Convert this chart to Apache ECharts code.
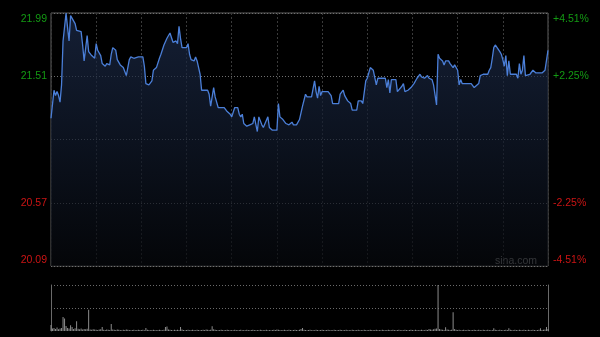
<!DOCTYPE html>
<html>
<head>
<meta charset="utf-8">
<script src="https://cdn.jsdelivr.net/npm/echarts@6/dist/echarts.min.js"></script>
<style>
html,body{margin:0;padding:0;background:#000;}
#c{width:600px;height:337px;}
</style>
</head>
<body>
<div id="c"></div>
<script>
// ---- data ----
const prevClose = 21.04;
const minuteIndex = [0,2,3,4,5,6,7,8,10,11,12,13,14,16,17,18,20,21,22,23,24,25,27,29,30,31,33,34,36,37,39,40,41,43,44,46,47,48,50,51,52,53,55,56,58,61,62,63,65,67,68,70,72,73,75,77,79,81,82,83,84,85,86,87,90,91,92,93,95,96,97,99,100,104,105,106,107,108,109,110,111,115,117,119,120,122,124,125,126,127,128,130,132,134,135,137,138,139,140,141,142,144,145,147,150,151,152,154,156,158,160,161,163,165,167,169,170,173,175,176,177,178,179,180,184,186,187,191,192,194,195,197,199,200,201,203,204,206,207,209,210,211,212,214,216,217,222,223,224,225,226,229,230,231,233,234,235,237,239,241,243,245,246,248,250,251,253,254,256,257,258,260,261,262,264,265,267,268,269,270,271,272,273,279,281,282,284,285,287,290,291,292,293,294,295,296,298,299,300,301,302,303,304,305,309,310,311,312,313,314,315,316,318,320,322,326,327,328,330];
const prices = [21.20,21.41,21.37,21.40,21.37,21.32,21.45,21.78,21.99,21.88,21.78,21.97,21.96,21.91,21.86,21.87,21.85,21.75,21.63,21.64,21.82,21.70,21.67,21.65,21.76,21.71,21.67,21.61,21.59,21.61,21.60,21.68,21.73,21.71,21.64,21.60,21.60,21.58,21.52,21.53,21.64,21.66,21.65,21.64,21.66,21.66,21.59,21.46,21.45,21.48,21.56,21.58,21.65,21.68,21.75,21.80,21.84,21.77,21.76,21.78,21.76,21.89,21.80,21.73,21.73,21.76,21.68,21.64,21.63,21.66,21.63,21.53,21.41,21.41,21.38,21.29,21.29,21.43,21.36,21.35,21.28,21.28,21.25,21.23,21.21,21.28,21.28,21.23,21.21,21.23,21.16,21.14,21.15,21.16,21.21,21.10,21.21,21.21,21.15,21.13,21.13,21.21,21.13,21.11,21.11,21.31,21.21,21.19,21.16,21.15,21.17,21.15,21.15,21.19,21.29,21.38,21.36,21.36,21.48,21.40,21.35,21.44,21.37,21.40,21.40,21.37,21.31,21.31,21.38,21.41,21.37,21.33,21.31,21.26,21.25,21.26,21.33,21.33,21.31,21.48,21.50,21.50,21.58,21.56,21.45,21.50,21.50,21.43,21.49,21.39,21.49,21.49,21.40,21.40,21.44,21.46,21.40,21.41,21.43,21.46,21.50,21.53,21.51,21.50,21.52,21.50,21.49,21.45,21.30,21.68,21.65,21.63,21.60,21.63,21.63,21.61,21.58,21.60,21.59,21.56,21.45,21.49,21.46,21.46,21.43,21.43,21.46,21.52,21.53,21.53,21.56,21.58,21.65,21.73,21.75,21.75,21.70,21.68,21.64,21.59,21.67,21.52,21.63,21.53,21.53,21.50,21.61,21.53,21.56,21.67,21.52,21.53,21.53,21.56,21.54,21.54,21.55,21.56,21.71];
const volume = [
60,25,30,20,35,18,25,30,140,125,50,30,25,57,40,20,28,97,22,18,25,15,20,18,22,213,15,12,18,14,
12,10,15,18,40,12,10,15,12,10,70,14,12,10,15,12,10,8,12,10,14,12,10,8,10,12,8,10,12,10,
10,12,8,30,12,10,8,10,12,10,8,10,12,10,8,12,40,45,15,12,10,8,12,10,12,10,40,15,10,8,
10,12,8,10,12,10,8,12,10,8,10,12,10,15,12,10,12,47,18,12,10,8,10,12,10,8,10,12,10,8,
10,8,12,10,8,10,12,8,10,8,12,10,8,10,12,10,8,10,8,12,10,8,10,12,8,10,8,10,12,10,
15,12,10,8,10,12,10,8,12,10,8,10,12,10,8,12,20,30,12,10,8,10,12,8,10,8,12,10,8,10,
12,10,8,10,12,8,10,8,12,10,8,10,12,10,8,10,12,8,10,8,12,10,8,10,12,8,10,8,12,10,
8,10,12,10,8,10,12,8,10,8,12,10,8,10,12,10,8,12,10,8,10,12,8,10,8,12,10,8,10,12,
10,8,12,10,8,10,12,10,8,12,10,20,15,12,18,22,25,460,20,15,12,10,37,15,12,10,12,187,20,12,
10,12,8,10,12,10,8,12,10,8,10,12,10,8,12,10,8,12,10,8,12,10,8,10,27,12,10,8,12,10,
8,10,12,10,27,12,10,8,12,10,8,12,10,8,12,10,8,12,10,8,12,10,8,10,12,27,10,12,15,40,
20];
const leftTickLabels = ['20.09','20.57','','21.51','21.99'];
const rightTickLabels = ['-4.51%','-2.25%','','+2.25%','+4.51%'];
const tickStep = 0.475;
const sessionMinutes = 330;
const volMax = 460;

// ---- build ----
const GREEN = '#139a13', RED = '#cc1414';
const tickIdx = v => Math.round(v / tickStep) + 2;
function richFmt(labels) {
  return function (v) {
    const i = tickIdx(v);
    const t = labels[i];
    if (!t) return '';
    const col = i > 2 ? 'g' : 'r';
    const pos = i === 4 ? 'T' : (i === 0 ? 'B' : 'M');
    return '{' + col + pos + '|' + t + '}';
  };
}
const baseFont = {fontSize: 10.5, fontFamily: 'Liberation Sans, Arial, sans-serif'};
const rich = {
  gT: Object.assign({color: GREEN, padding: [12,0,0,0]}, baseFont),
  gM: Object.assign({color: GREEN}, baseFont),
  gB: Object.assign({color: GREEN, padding: [0,0,12,0]}, baseFont),
  rT: Object.assign({color: RED, padding: [12,0,0,0]}, baseFont),
  rM: Object.assign({color: RED}, baseFont),
  rB: Object.assign({color: RED, padding: [0,0,12,0]}, baseFont)
};

const lineData = minuteIndex.map((m, i) => [m, +(prices[i] - prevClose).toFixed(4)]);
const volData = volume.map((v, i) => [i, v]);

const chart = echarts.init(document.getElementById('c'), null, {renderer: 'canvas'});
chart.setOption({
  animation: false,
  backgroundColor: '#000',
  grid: [
    {left: 51, right: 52, top: 13, height: 253, show: true, borderColor: '#5e5e5e', borderWidth: 1, backgroundColor: 'transparent'},
    {left: 51, right: 52, top: 285, height: 46}
  ],
  xAxis: [
    {gridIndex: 0, type: 'value', min: 0, max: sessionMinutes, interval: 30,
     axisLine: {show: false}, axisTick: {show: false}, axisLabel: {show: false},
     splitLine: {show: true, lineStyle: {color: '#3a3a3a', type: [2,2], width: 1}}},
    {gridIndex: 1, type: 'value', min: 0, max: sessionMinutes, interval: 30,
     axisLine: {show: false}, axisTick: {show: false}, axisLabel: {show: false}, splitLine: {show: false}}
  ],
  yAxis: [
    {gridIndex: 0, type: 'value', min: -2 * tickStep, max: 2 * tickStep, interval: tickStep, position: 'left',
     axisLine: {show: false}, axisTick: {show: false},
     axisLabel: {margin: 4, formatter: richFmt(leftTickLabels), rich: rich},
     splitLine: {show: true, lineStyle: {color: '#707070', type: [1,2], width: 1}}},
    {gridIndex: 0, type: 'value', min: -2 * tickStep, max: 2 * tickStep, interval: tickStep, position: 'right',
     axisLine: {show: false}, axisTick: {show: false},
     axisLabel: {margin: 5, formatter: richFmt(rightTickLabels), rich: rich},
     splitLine: {show: false}},
    {gridIndex: 1, type: 'value', min: 0, max: volMax, interval: volMax / 2, position: 'left',
     axisLine: {show: true, lineStyle: {color: '#6a6a6a'}}, axisTick: {show: false}, axisLabel: {show: false},
     splitLine: {show: true, showMinLine: false, lineStyle: {color: '#6a6a6a', type: [1,2]}}},
    {gridIndex: 1, type: 'value', min: 0, max: volMax, position: 'right',
     axisLine: {show: true, lineStyle: {color: '#6a6a6a'}}, axisTick: {show: false}, axisLabel: {show: false},
     splitLine: {show: false}}
  ],
  series: [
    {type: 'line', xAxisIndex: 0, yAxisIndex: 0, data: lineData, symbol: 'none', smooth: false,
     lineStyle: {color: '#4b7fd8', width: 1.3},
     areaStyle: {origin: 'start', color: new echarts.graphic.LinearGradient(0, 0, 0, 1, [
       {offset: 0, color: '#1d2c4b'}, {offset: 0.5, color: '#111a2c'}, {offset: 1, color: '#06080c'}])}},
    {type: 'bar', xAxisIndex: 1, yAxisIndex: 2, data: volData, barWidth: 1,
     itemStyle: {color: '#8c8c8c'}}
  ],
  graphic: [
    {type: 'text', right: 63, top: 256, style: {text: 'sina.com', fill: '#9a9a9a', fontSize: 10.5, fontFamily: 'Liberation Sans, Arial, sans-serif'}}
  ]
});
</script>
</body>
</html>
